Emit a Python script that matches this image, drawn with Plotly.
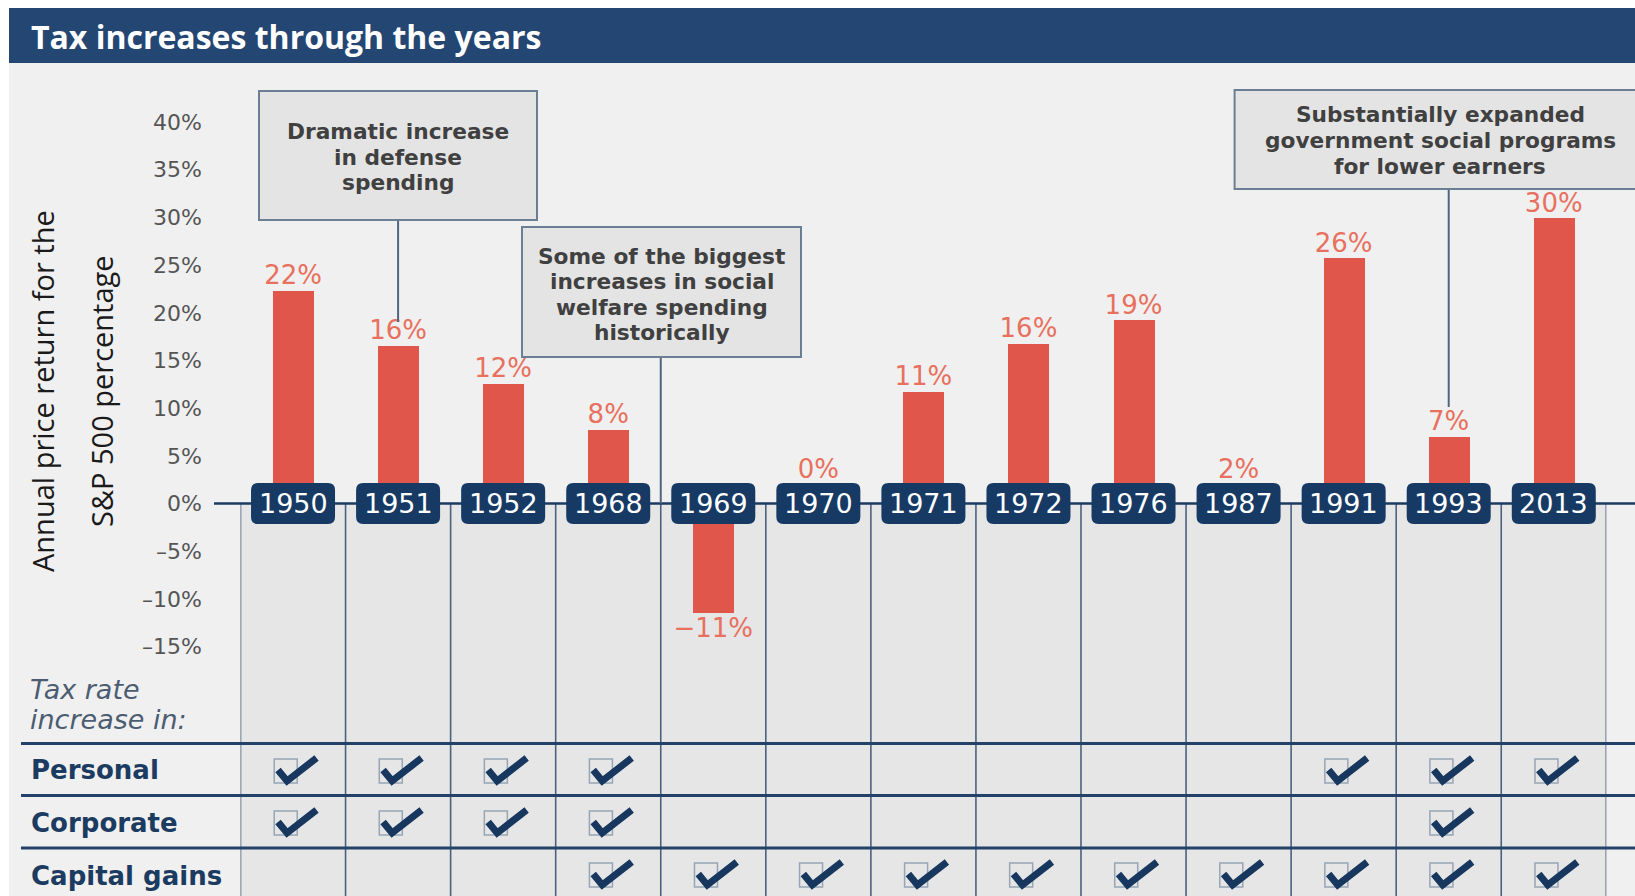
import plotly.graph_objects as go

# ---------------- data ----------------
years = ["1950", "1951", "1952", "1968", "1969", "1970", "1971",
         "1972", "1976", "1987", "1991", "1993", "2013"]
returns = [22.3, 16.5, 12.5, 7.7, -11.5, 0.1, 11.7, 16.7, 19.2, 2.0, 25.7, 7.0, 29.9]
return_labels = ["22%", "16%", "12%", "8%", "\u221211%", "0%", "11%",
                 "16%", "19%", "2%", "26%", "7%", "30%"]
personal = [1, 1, 1, 1, 0, 0, 0, 0, 0, 0, 1, 1, 1]
corporate = [1, 1, 1, 1, 0, 0, 0, 0, 0, 0, 0, 1, 0]
capital_gains = [0, 0, 0, 1, 1, 1, 1, 1, 1, 1, 1, 1, 1]
row_names = ["Personal", "Corporate", "Capital gains"]
tick_vals = [40, 35, 30, 25, 20, 15, 10, 5, 0, -5, -10, -15]
tick_text = ["40%", "35%", "30%", "25%", "20%", "15%", "10%", "5%", "0%",
             "\u20135%", "\u201310%", "\u201315%"]
title_text = "Tax increases through the years"
y_title = ["Annual price return for the", "S&P 500 percentage"]
callouts = [
    {"lines": ["Dramatic increase", "in defense", "spending"], "col": 1},
    {"lines": ["Some of the biggest", "increases in social", "welfare spending", "historically"], "col": 3.5},
    {"lines": ["Substantially expanded", "government social programs", "for lower earners"], "col": 11},
]

# ---------------- layout geometry (pixels) ----------------
W, H = 1635, 896
ZERO_PX = 503.6
PX_PER = 9.54
X0, X1 = 240.5, 1606.3
N = len(years)
COLW = (X1 - X0) / N
Y_TOP = ZERO_PX / PX_PER
Y_BOT = -(H - ZERO_PX) / PX_PER

NAVY = "#163a64"
BAR = "#e0564a"
LABEL_RED = "#e8705e"


def xp(px):
    return px / W


def yp(py):
    return 1 - py / H


fig = go.Figure()

# bars
fig.add_trace(go.Bar(x=list(range(N)), y=returns, width=0.39,
                     marker=dict(color=BAR, line=dict(width=0)),
                     hoverinfo="skip"))

# value labels
lab_y = [(max(v, 2.0) + 1.4) if v >= 0 else (v - 1.8) for v in returns]
fig.add_trace(go.Scatter(x=list(range(N)), y=lab_y, mode="text",
                         text=return_labels, textposition="middle center",
                         textfont=dict(family="DejaVu Sans", size=26, color=LABEL_RED),
                         hoverinfo="skip"))

shapes = []
# page panels
shapes.append(dict(type="rect", xref="paper", yref="paper", x0=xp(9), x1=1.01,
                   y0=yp(H + 5), y1=yp(63), fillcolor="#f0f0f0", line=dict(width=0), layer="below"))
shapes.append(dict(type="rect", xref="paper", yref="paper", x0=xp(9), x1=1.01,
                   y0=yp(63), y1=yp(8), fillcolor="#244673", line=dict(width=0), layer="below"))
# column background below zero
shapes.append(dict(type="rect", xref="x", yref="y", x0=-0.5, x1=N - 0.5,
                   y0=Y_BOT - 1, y1=0, fillcolor="#e6e6e6", line=dict(width=0), layer="below"))
# dividers
for i in range(N + 1):
    shapes.append(dict(type="line", xref="x", yref="y", x0=i - 0.5, x1=i - 0.5,
                       y0=0, y1=Y_BOT - 1, line=dict(color="#4a6280", width=1.6), layer="below"))
# row lines
for py in [743.5, 795.5, 848]:
    shapes.append(dict(type="line", xref="paper", yref="paper", x0=xp(21), x1=1.01,
                       y0=yp(py), y1=yp(py), line=dict(color="#23426a", width=3)))
# zero line
shapes.append(dict(type="line", xref="paper", yref="y", x0=xp(214), x1=1.01,
                   y0=0, y1=0, line=dict(color="#1c3b60", width=2.5)))

# year boxes (rounded)
bw, bh, r = 84 / COLW, 41 / PX_PER, 7
rx, ry = r / COLW, r / PX_PER
for i in range(N):
    xl, xr = i - bw / 2, i + bw / 2
    yb, yt = -bh / 2, bh / 2
    path = (f"M {xl+rx},{yt} L {xr-rx},{yt} Q {xr},{yt} {xr},{yt-ry} "
            f"L {xr},{yb+ry} Q {xr},{yb} {xr-rx},{yb} L {xl+rx},{yb} "
            f"Q {xl},{yb} {xl},{yb+ry} L {xl},{yt-ry} Q {xl},{yt} {xl+rx},{yt} Z")
    shapes.append(dict(type="path", xref="x", yref="y", path=path,
                       fillcolor=NAVY, line=dict(width=0)))

# callout boxes (pixel boxes) and connectors
box_px = [(259, 537, 91, 220), (522, 801, 227, 357), (1234.6, 1650, 90, 189)]
conn_end = [322, ZERO_PX, 407]
for cb, (x0, x1, y0, y1), ye in zip(callouts, box_px, conn_end):
    shapes.append(dict(type="line", xref="x", yref="paper", x0=cb["col"], x1=cb["col"],
                       y0=yp(y1), y1=yp(ye), line=dict(color="#4f6580", width=2)))
    shapes.append(dict(type="rect", xref="paper", yref="paper", x0=xp(x0), x1=xp(x1),
                       y0=yp(y1), y1=yp(y0), fillcolor="#e4e4e4",
                       line=dict(color="#6a7e94", width=2)))

# checkboxes
row_centers = [770, 822, 874]
for flags, rc in zip([personal, corporate, capital_gains], row_centers):
    for i, f in enumerate(flags):
        if not f:
            continue
        sx, sy = -7.3, 1.0
        shapes.append(dict(type="rect", xref="x", yref="paper",
                           x0=i + (sx - 11.5) / COLW, x1=i + (sx + 11.5) / COLW,
                           y0=yp(rc + sy + 12), y1=yp(rc + sy - 12),
                           line=dict(color="#97a5b6", width=1.5)))
        pts = [(-15.0, 0.0), (-6.0, 11.0), (23.5, -12.0)]
        path = "M " + " L ".join(f"{i + dx / COLW},{yp(rc + dy)}" for dx, dy in pts)
        shapes.append(dict(type="path", xref="x", yref="paper", path=path,
                           line=dict(color="#17375e", width=7)))

annotations = []
annotations.append(dict(text=f"<b>{title_text}</b>", xref="paper", yref="paper",
                        x=xp(29), y=yp(36.5), xanchor="left", yanchor="middle", showarrow=False,
                        font=dict(family="Open Sans", size=32, color="white")))
for txt, cx in zip(y_title, [42, 101]):
    annotations.append(dict(text=txt, xref="paper", yref="paper", x=xp(cx), y=yp(391),
                            xanchor="center", yanchor="middle", textangle=-90, showarrow=False,
                            font=dict(family="Open Sans", size=29, color="#1a1a1a")))
for i, yr in enumerate(years):
    annotations.append(dict(text=yr, xref="x", yref="y", x=i, y=0, showarrow=False,
                            xanchor="center", yanchor="middle",
                            font=dict(family="DejaVu Sans", size=27, color="white")))
LINE_SP = 25.6
for cb, (x0, x1, y0, y1), cy in zip(callouts, box_px, [157, 294.5, 140.4]):
    cx = (x0 + x1) / 2 if x1 < W else 1440
    n = len(cb["lines"])
    for k, line in enumerate(cb["lines"]):
        ly = cy + (k - (n - 1) / 2) * LINE_SP
        annotations.append(dict(text=f"<b>{line}</b>", xref="paper", yref="paper",
                                x=xp(cx), y=yp(ly), xanchor="center", yanchor="middle",
                                showarrow=False,
                                font=dict(family="DejaVu Sans", size=21.7, color="#404040")))
for txt, cy in zip(["Tax rate", "increase in:"], [689, 719]):
    annotations.append(dict(text=f"<i>{txt}</i>", xref="paper", yref="paper",
                            x=xp(28), y=yp(cy), xanchor="left", yanchor="middle", showarrow=False,
                            font=dict(family="DejaVu Sans", size=27, color="#4c5d72")))
for name, cy in zip(row_names, [770, 823, 876]):
    annotations.append(dict(text=f"<b>{name}</b>", xref="paper", yref="paper",
                            x=xp(29), y=yp(cy), xanchor="left", yanchor="middle", showarrow=False,
                            font=dict(family="DejaVu Sans", size=26, color="#1c3b60")))

fig.update_layout(
    width=W, height=H, margin=dict(l=0, r=0, t=0, b=0, pad=0),
    paper_bgcolor="white", plot_bgcolor="rgba(0,0,0,0)", showlegend=False,
    xaxis=dict(domain=[X0 / W, X1 / W], range=[-0.5, N - 0.5], visible=False, fixedrange=True),
    yaxis=dict(domain=[0, 1], range=[Y_BOT, Y_TOP], anchor="free", position=xp(202),
               tickvals=tick_vals, ticktext=tick_text, ticks="", showgrid=False,
               zeroline=False, showline=False, fixedrange=True,
               tickfont=dict(family="DejaVu Sans", size=22, color="#555555")),
    shapes=shapes, annotations=annotations, bargap=0,
)

fig.write_html("out.html", config={"displayModeBar": False},
               post_script="document.body.style.margin='0';document.body.style.overflow='hidden';")
